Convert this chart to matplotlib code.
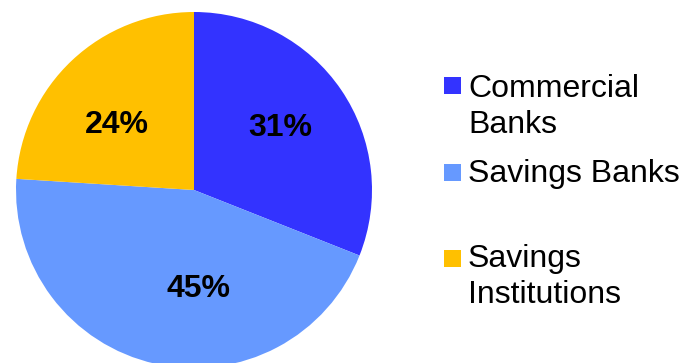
import matplotlib.pyplot as plt
from matplotlib.patches import Rectangle

plt.rcParams['font.family'] = ['Liberation Sans', 'DejaVu Sans']

categorias = ["Commercial\nBanks", "Savings Banks", "Savings\nInstitutions"]
valores = [31, 45, 24]
cores = ["#3333FF", "#6699FF", "#FFC000"]

W, H = 683, 363
fig = plt.figure(figsize=(W / 100, H / 100), dpi=100)

# pizza com centro em (194, 190) px e raio de 178 px
cx, cy, r = 194, 190, 178
ax = fig.add_axes([(cx - r) / W, (H - cy - r) / H, 2 * r / W, 2 * r / H])
fatias, _, pcts = ax.pie(valores, colors=cores, startangle=90, counterclock=False,
                         radius=1, autopct="%d%%", pctdistance=0.58,
                         wedgeprops=dict(linewidth=0),
                         textprops=dict(fontsize=23, fontweight="bold", color="black"))

# posições dos rótulos de porcentagem (em unidades do raio)
pos_rotulos = [(0.483, 0.35), (0.028, -0.555), (-0.433, 0.365)]
for t, (x, y) in zip(pcts, pos_rotulos):
    t.set_position((x, y))
    t.set_va("center")

ax.set_xlim(-1, 1)
ax.set_ylim(-1, 1)
ax.set_aspect("equal")
ax.axis("off")

# legenda desenhada à mão
topos_quadrado = [77, 164, 250]
linhas_base = [97, 182, 267]
for rotulo, cor, yq, yb in zip(categorias, cores, topos_quadrado, linhas_base):
    fig.patches.append(Rectangle((444 / W, 1 - (yq + 17) / H), 17 / W, 17 / H,
                                 transform=fig.transFigure, facecolor=cor,
                                 edgecolor="none"))
    for i, linha in enumerate(rotulo.split("\n")):
        fig.text(468 / W, 1 - (yb + 36 * i) / H, linha, fontsize=23,
                 va="baseline", ha="left", color="black")

fig.savefig("out.png", dpi=100)
